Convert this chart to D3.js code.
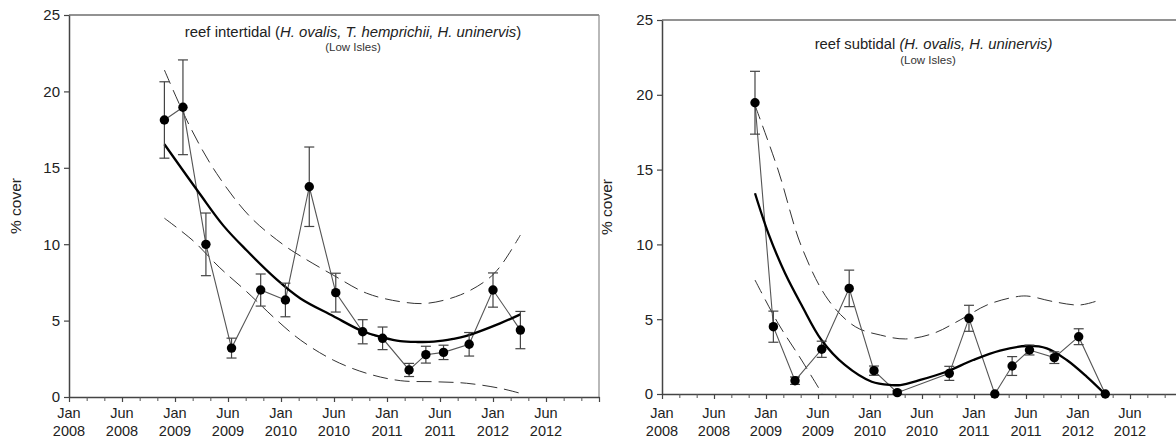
<!DOCTYPE html>
<html><head><meta charset="utf-8">
<script src="https://cdn.jsdelivr.net/npm/d3@7"></script>
<style>
body{margin:0;background:#fff}
text{font-family:"Liberation Sans",Arial,Helvetica,sans-serif}
</style>
</head><body>
<svg id="chart" width="1176" height="437"></svg>
<script>
// ---------- data (months since Jan 2008) ----------
const yTickValues = [0, 5, 10, 15, 20, 25];
const xMajorTicks = [0, 6, 12, 18, 24, 30, 36, 42, 48, 54, 60];
const xTickMonthLabels = ["Jan","Jun","Jan","Jun","Jan","Jun","Jan","Jun","Jan","Jun",""];
const xTickYearLabels  = ["2008","2008","2009","2009","2010","2010","2011","2011","2012","2012",""];
const xMinorTicks = [2,4,8,10,14,16,20,22,26,28,32,34,38,40,44,46,50,52,56,58];

// reef intertidal
const interMonths = [10.8, 12.9, 15.5, 18.4, 21.7, 24.5, 27.2, 30.2, 33.25, 35.5, 38.5, 40.4, 42.4, 45.3, 48.0, 51.1];
const interCover  = [18.13, 18.96, 9.99, 3.2, 7.0, 6.35, 13.76, 6.83, 4.27, 3.84, 1.77, 2.77, 2.92, 3.45, 7.0, 4.38];
const interSE     = [2.5, 3.1, 2.05, 0.65, 1.05, 1.1, 2.6, 1.27, 0.79, 0.74, 0.43, 0.55, 0.47, 0.77, 1.12, 1.22];
const interFitMonths = [10.8, 14.8, 17.5, 20.1, 23.5, 26.2, 29.9, 33.25, 35.5, 37.5, 39.5, 41.3, 43.5, 45.0, 48.8, 51.1];
const interFit       = [16.54, 13.3, 11.2, 9.6, 7.7, 6.45, 5.3, 4.3, 3.9, 3.65, 3.6, 3.62, 3.8, 4.0, 4.82, 5.41];
const interUpMonths  = [10.8, 13.7, 16.7, 20.5, 24.3, 26.2, 29.9, 33.7, 37.5, 40.5, 44.3, 47.3, 48.8, 51.1];
const interUp        = [21.4, 17.69, 14.64, 11.8, 9.95, 9.23, 7.98, 6.79, 6.24, 6.13, 6.68, 7.66, 8.53, 10.6];
const interLoMonths  = [10.8, 14.1, 17.0, 20.1, 23.5, 26.2, 29.9, 33.7, 37.5, 41.3, 45.0, 48.8, 51.1];
const interLo        = [11.7, 10.2, 8.5, 6.9, 5.04, 3.73, 2.42, 1.55, 1.07, 1.0, 0.9, 0.57, 0.24];

// reef subtidal
const subMonths = [10.73, 12.85, 15.35, 18.43, 21.6, 24.46, 27.15, 33.15, 35.42, 38.4, 40.4, 42.4, 45.27, 48.08, 51.15];
const subCover  = [19.47, 4.5, 0.89, 2.99, 7.06, 1.56, 0.09, 1.38, 5.06, 0, 1.87, 2.94, 2.43, 3.83, 0];
const subSE     = [2.1, 1.04, 0.25, 0.54, 1.22, 0.31, 0.12, 0.47, 0.87, 0, 0.63, 0.33, 0.39, 0.53, 0];
const subFitMonths = [10.73, 12.27, 14.2, 16.1, 18.4, 21.1, 24.2, 26.5, 27.5, 29.8, 32.8, 35.9, 39.0, 42.1, 44.4, 46.7, 49.0, 51.1];
const subFit       = [13.42, 10.74, 8.07, 5.95, 3.61, 1.94, 0.82, 0.6, 0.6, 0.94, 1.49, 2.27, 2.9, 3.21, 3.05, 2.27, 1.16, 0.0];
const subUpMonths  = [10.73, 13.4, 16.1, 19.2, 22.3, 25.2, 28.1, 31.3, 34.4, 37.5, 40.5, 42.1, 45.2, 48.2, 50.3];
const subUp        = [19.3, 14.97, 9.85, 6.28, 4.5, 3.94, 3.68, 4.05, 4.95, 5.95, 6.46, 6.55, 6.17, 5.95, 6.24];
const subLoMonths  = [10.73, 13.4, 16.1, 18.5];
const subLo        = [7.62, 4.72, 2.27, 0.0];

// ---------- drawing ----------
const svg = d3.select("#chart");
const zip = (a, b) => a.map((v, i) => [v, b[i]]);

function panel(o) {
  const x = d3.scaleLinear().domain([0, 60]).range([o.x0, o.x1]);
  const y = d3.scaleLinear().domain([0, 25]).range([o.y0, o.y1]);
  const g = svg.append("g");
  const clipId = "clip" + o.id;
  svg.append("defs").append("clipPath").attr("id", clipId)
    .append("rect").attr("x", o.x0).attr("y", o.y1 - 5).attr("width", o.x1 - o.x0).attr("height", o.y0 - o.y1 + 5);

  // frame lines (top, right)
  g.append("line").attr("x1", o.x0).attr("x2", o.frameRight).attr("y1", o.y1).attr("y2", o.y1)
    .attr("stroke", "#6e6e6e").attr("stroke-width", 1.5);
  if (o.drawRight) g.append("line").attr("x1", o.x1).attr("x2", o.x1).attr("y1", o.y1).attr("y2", o.y0)
    .attr("stroke", "#8a8a8a").attr("stroke-width", 1.2);

  // y axis
  const ya = g.append("g").attr("transform", `translate(${o.x0},0)`)
    .call(d3.axisLeft(y).tickValues(yTickValues).tickSize(5).tickSizeOuter(0).tickPadding(4));
  ya.select(".domain").attr("stroke", "#444").attr("stroke-width", 1.5);
  ya.selectAll(".tick line").attr("stroke", "#444").attr("stroke-width", 1.2);
  ya.selectAll(".tick text").attr("font-size", 15).attr("fill", "#222")
    .attr("font-family", "'Liberation Sans',Arial,sans-serif");

  // x axis: major
  const xa = g.append("g").attr("transform", `translate(0,${o.y0})`)
    .call(d3.axisBottom(x).tickValues(xMajorTicks).tickSize(5).tickSizeOuter(0).tickFormat(""));
  xa.select(".domain").attr("stroke", "#444").attr("stroke-width", 1.5);
  xa.selectAll(".tick line").attr("stroke", "#444").attr("stroke-width", 1.2);
  // minor
  const xm = g.append("g").attr("transform", `translate(0,${o.y0})`)
    .call(d3.axisBottom(x).tickValues(xMinorTicks).tickSize(4).tickFormat(""));
  xm.select(".domain").remove();
  xm.selectAll(".tick line").attr("stroke", "#555").attr("stroke-width", 1);

  // x tick labels (two lines)
  const lab = g.append("g").attr("font-size", 14.5).attr("fill", "#222").attr("text-anchor", "middle");
  xMajorTicks.forEach((m, i) => {
    if (!xTickMonthLabels[i]) return;
    lab.append("text").attr("x", x(m)).attr("y", o.lab1).text(xTickMonthLabels[i]);
    lab.append("text").attr("x", x(m)).attr("y", o.lab1 + 17.5).text(xTickYearLabels[i]);
  });

  // y axis title
  g.append("text").attr("transform", `translate(${o.ylabX},${(o.y0 + o.y1) / 2}) rotate(-90)`)
    .attr("text-anchor", "middle").attr("font-size", 15.5).attr("fill", "#222").text("% cover");

  // title
  const t = g.append("text").attr("x", o.titleX).attr("y", o.titleY).attr("text-anchor", "middle")
    .attr("font-size", o.titleSize).attr("fill", "#222");
  o.title.forEach(p => t.append("tspan").attr("font-style", p[1] ? "italic" : "normal").text(p[0]));
  g.append("text").attr("x", o.subX).attr("y", o.subY).attr("text-anchor", "middle")
    .attr("font-size", 11.5).attr("fill", "#333").text("(Low Isles)");

  const plot = g.append("g").attr("clip-path", `url(#${clipId})`);
  const line = d3.line().x(d => x(d[0])).y(d => y(d[1]));
  const smoothN = d3.line().x(d => x(d[0])).y(d => y(d[1])).curve(d3.curveCatmullRom.alpha(0.5));

  // confidence bands
  plot.append("path").attr("d", smoothN(zip(o.upM, o.up))).attr("fill", "none")
    .attr("stroke", "#333").attr("stroke-width", 1).attr("stroke-dasharray", "15,7");
  plot.append("path").attr("d", smoothN(zip(o.loM, o.lo))).attr("fill", "none")
    .attr("stroke", "#333").attr("stroke-width", 1).attr("stroke-dasharray", "15,7");

  // data line
  const pts = zip(o.months, o.cover);
  g.append("path").attr("d", line(pts)).attr("fill", "none").attr("stroke", "#555").attr("stroke-width", 1.1);

  // fit
  g.append("path").attr("d", smoothN(zip(o.fitM, o.fit))).attr("fill", "none")
    .attr("stroke", "#000").attr("stroke-width", 2.3);

  // error bars
  const eb = g.append("g").attr("stroke", "#444").attr("stroke-width", 1.2);
  o.months.forEach((m, i) => {
    const se = o.se[i];
    if (!se) return;
    const cx = x(m), yt = y(o.cover[i] + se), yb = y(Math.max(0, o.cover[i] - se));
    eb.append("line").attr("x1", cx).attr("x2", cx).attr("y1", yt).attr("y2", yb);
    eb.append("line").attr("x1", cx - 5).attr("x2", cx + 5).attr("y1", yt).attr("y2", yt);
    eb.append("line").attr("x1", cx - 5).attr("x2", cx + 5).attr("y1", yb).attr("y2", yb);
  });

  // markers
  g.append("g").selectAll("circle").data(pts).join("circle")
    .attr("cx", d => x(d[0])).attr("cy", d => y(d[1])).attr("r", 4.7).attr("fill", "#000");
}

panel({
  id: "L", x0: 69, x1: 599, y0: 397, y1: 15, frameRight: 599, drawRight: true,
  lab1: 418, ylabX: 21, titleX: 353, titleY: 37, titleSize: 14.9, subX: 353, subY: 50.5,
  title: [["reef intertidal (", false], ["H. ovalis, T. hemprichii, H. uninervis", true], [")", false]],
  months: interMonths, cover: interCover, se: interSE,
  fitM: interFitMonths, fit: interFit, upM: interUpMonths, up: interUp, loM: interLoMonths, lo: interLo
});
panel({
  id: "R", x0: 662, x1: 1182, y0: 394, y1: 20, frameRight: 1176, drawRight: false,
  lab1: 418, ylabX: 612, titleX: 933.5, titleY: 48.5, titleSize: 14.8, subX: 928, subY: 64,
  title: [["reef subtidal ", false], ["(H. ovalis, H. uninervis)", true]],
  months: subMonths, cover: subCover, se: subSE,
  fitM: subFitMonths, fit: subFit, upM: subUpMonths, up: subUp, loM: subLoMonths, lo: subLo
});
</script>
</body></html>
